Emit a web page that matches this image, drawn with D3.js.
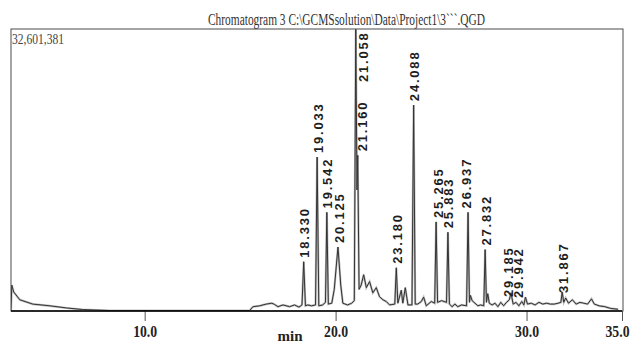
<!DOCTYPE html>
<html>
<head>
<meta charset="utf-8">
<script src="https://cdn.jsdelivr.net/npm/d3@7"></script>
<style>
  body { margin: 0; background: #fff; }
  svg { display: block; }
</style>
</head>
<body>
<div class="chart"></div>
<script>
// chromatogram: retention time (min) vs intensity (millions of counts)
const titleText = "Chromatogram 3 C:\\GCMSsolution\\Data\\Project1\\3```.QGD";
const maxIntensity = 32.601381;
const maxIntensityLabel = "32,601,381";
const timeTicks = [10, 20, 30, 35];

const peakTimes = [18.330, 19.033, 19.542, 20.125, 21.058, 21.160, 23.180, 24.088,
  25.265, 25.883, 26.937, 27.832, 29.185, 29.942, 31.867];
const peakHeights = [5.7, 17.8, 11.4, 7.4, 32.6, 18.0, 5.0, 23.8,
  10.3, 9.1, 11.4, 7.1, 2.1, 1.6, 2.2];

// trace points between peaks
const baseTimes = [3.00, 3.04, 3.14, 3.46, 4.14, 5.03, 5.92, 6.75, 8.2, 15.5,
  15.67, 16.02, 16.37, 16.66, 16.81, 16.98, 17.24, 17.59, 17.85, 18.08, 18.24,
  18.42, 18.55, 18.74, 18.95,
  19.12, 19.32, 19.47,
  19.62, 19.80, 19.93,
  20.27, 20.38, 20.63, 20.84, 20.98,
  21.12,
  21.23, 21.34, 21.47, 21.61, 21.78, 21.95, 22.13, 22.30, 22.48, 22.65, 22.83, 23.10,
  23.26, 23.44, 23.52, 23.65, 23.79, 24.00,
  24.17, 24.30, 24.49, 24.61, 24.75, 25.01, 25.19,
  25.34, 25.55, 25.81,
  25.96, 26.10, 26.25, 26.40, 26.60, 26.86,
  27.01, 27.06, 27.15, 27.30, 27.45, 27.60, 27.76,
  27.90, 27.97, 28.05, 28.20, 28.35, 28.50, 28.65, 28.80, 28.95, 29.10,
  29.30, 29.45, 29.60, 29.75, 29.86,
  30.05, 30.25, 30.45, 30.65, 30.85, 31.05, 31.25, 31.45, 31.65, 31.80,
  31.95, 32.05, 32.20, 32.40, 32.60, 32.80, 33.00, 33.20, 33.40, 33.55, 33.80, 34.10, 34.40, 34.80];
const baseValues = [0, 3.0, 2.2, 1.3, 0.8, 0.6, 0.35, 0.17, 0.05, 0.05,
  0.5, 0.6, 0.8, 0.9, 0.75, 0.5, 0.7, 0.5, 0.7, 0.45, 0.7,
  0.6, 0.7, 0.6, 0.7,
  0.6, 0.7, 1.0,
  0.8, 0.9, 2.5,
  3.0, 0.9, 0.7, 0.9, 1.2,
  14,
  2.5, 3.0, 4.2, 2.7, 3.4, 2.1, 2.7, 1.65, 1.3, 1.1, 0.7, 0.8,
  0.9, 2.4, 0.9, 2.7, 0.7, 0.7,
  0.8, 0.8, 1.1, 1.6, 0.6, 1.1, 0.9,
  1.0, 1.2, 1.0,
  0.8, 0.5, 0.8, 0.5, 0.7, 0.6,
  1.0, 1.8, 1.2, 0.9, 0.6, 0.7, 0.6,
  1.0, 2.0, 0.9, 0.7, 0.9, 0.5, 1.0, 0.6, 1.0, 1.3,
  0.8, 1.0, 0.6, 1.1, 0.7,
  0.8, 0.9, 0.7, 1.0, 0.8, 0.9, 0.8, 0.8, 0.9, 1.0,
  1.0, 1.5, 0.9, 1.3, 0.8, 1.0, 0.9, 0.8, 1.4, 0.8, 0.6, 0.5, 0.3, 0.2];

const WIDTH = 634;
const HEIGHT = 343;
const frame = {left: 11, top: 29, right: 623, bottom: 311};

const svg = d3.select('.chart')
  .append('svg')
  .attr("width", WIDTH)
  .attr("height", HEIGHT);

const x = d3.scaleLinear()
  .domain([3, 35])
  .range([frame.left, 622]);

const y = d3.scaleLinear()
  .domain([0, maxIntensity])
  .range([frame.bottom, frame.top]);

// frame
svg.append("rect")
  .attr("x", frame.left)
  .attr("y", frame.top)
  .attr("width", frame.right - frame.left)
  .attr("height", frame.bottom - frame.top)
  .attr("fill", "none")
  .attr("stroke", "#4a4a4a")
  .attr("stroke-width", 1);

svg.append("text")
  .text(titleText)
  .attr("x", 346.5)
  .attr("y", 25)
  .attr("text-anchor", "middle")
  .attr("textLength", 277)
  .attr("lengthAdjust", "spacingAndGlyphs")
  .attr("font-family", "Liberation Serif, serif")
  .attr("font-size", 16)
  .attr("fill", "#333");

svg.append("text")
  .text(maxIntensityLabel)
  .attr("x", 12)
  .attr("y", 44)
  .attr("textLength", 52)
  .attr("lengthAdjust", "spacingAndGlyphs")
  .attr("font-family", "Liberation Serif, serif")
  .attr("font-size", 15)
  .attr("fill", "#444");

// merge baseline points and peak apexes into one trace
const trace = baseTimes.map((t, i) => [t, baseValues[i]])
  .concat(peakTimes.map((t, i) => [t, peakHeights[i]]))
  .sort((a, b) => a[0] - b[0]);

svg.append("clipPath")
  .attr("id", "plot-clip")
  .append("rect")
  .attr("x", frame.left)
  .attr("y", frame.top)
  .attr("width", frame.right - frame.left)
  .attr("height", frame.bottom - frame.top);

const line = d3.line()
  .x(d => x(d[0]))
  .y(d => y(d[1]));

const plot = svg.append("g").attr("clip-path", "url(#plot-clip)");

plot.append("path")
  .datum(trace)
  .attr("d", line)
  .attr("fill", "none")
  .attr("stroke", "#bdbdbd")
  .attr("stroke-width", 2.2);

plot.append("path")
  .datum(trace)
  .attr("d", line)
  .attr("fill", "none")
  .attr("stroke", "#333")
  .attr("stroke-width", 1);

// time axis
const xAxis = d3.axisBottom(x)
  .tickValues(timeTicks)
  .tickSize(10)
  .tickPadding(4)
  .tickFormat(d3.format(".1f"));

const axisG = svg.append("g")
  .attr("transform", `translate(0, ${frame.bottom})`)
  .call(xAxis);

axisG.select(".domain").remove();
axisG.selectAll(".tick line").attr("stroke", "#555");
axisG.selectAll(".tick text")
  .attr("font-family", "Liberation Serif, serif")
  .attr("font-weight", "bold")
  .attr("font-size", 17)
  .attr("fill", "#222")
  .attr("textLength", 24)
  .attr("lengthAdjust", "spacingAndGlyphs")
  .attr("dx", d => d === 35 ? -5 : 0);

svg.append("line")
  .attr("x1", frame.left)
  .attr("x2", 622)
  .attr("y1", frame.bottom)
  .attr("y2", frame.bottom)
  .attr("stroke", "#000")
  .attr("stroke-width", 1.6);

svg.append("text")
  .text("min")
  .attr("x", 290)
  .attr("y", 341)
  .attr("text-anchor", "middle")
  .attr("font-family", "Liberation Serif, serif")
  .attr("font-weight", "bold")
  .attr("font-size", 15)
  .attr("fill", "#222");

// peak labels, rotated, sitting on top of each peak
const nudge = {"21.058": {dx: 8, bottom: 82}, "21.160": {dx: 5}, "25.265": {dx: 2},
  "26.937": {dx: -2}, "29.185": {dx: -3, bottom: 297}, "29.942": {dx: -7, bottom: 298},
  "31.867": {bottom: 293}};

peakTimes.forEach((t, i) => {
  const key = t.toFixed(3);
  const n = nudge[key] || {};
  const lx = x(t) + (n.dx || 1);
  const ly = n.bottom !== undefined ? n.bottom : y(peakHeights[i]) - 4;
  svg.append("text")
    .text(key)
    .attr("x", lx)
    .attr("y", ly)
    .attr("dy", "0.35em")
    .attr("transform", `rotate(-90, ${lx}, ${ly})`)
    .attr("font-family", "Liberation Sans, Arial, sans-serif")
    .attr("font-weight", "bold")
    .attr("font-size", 13)
    .attr("letter-spacing", 1.8)
    .attr("fill", "#1e1e1e");
});
</script>
</body>
</html>
